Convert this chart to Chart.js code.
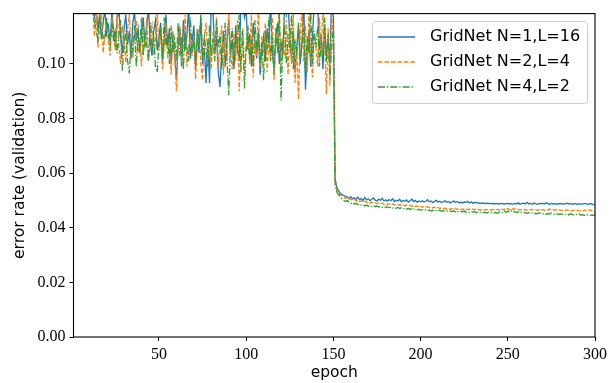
<!DOCTYPE html>
<html>
<head>
<meta charset="utf-8">
<script src="https://cdn.jsdelivr.net/npm/chart.js@4"></script>
<style>
  body { margin: 0; background: #fff; }
  canvas { display: block; }
</style>
</head>
<body>
<canvas id="chart" width="611" height="383"></canvas>
<script>
// ticks shown on the axes
var xTicks = [50, 100, 150, 200, 250, 300];
var yTicks = [0, 0.02, 0.04, 0.06, 0.08, 0.10];

var seriesNames = ["GridNet N=1,L=16", "GridNet N=2,L=4", "GridNet N=4,L=2"];

// validation error per epoch (1..300)
var errN1L16 = [
  0.31, 0.24, 0.2, 0.17, 0.155, 0.145, 0.138, 0.133, 0.129, 0.126, 0.124, 0.122,
  0.117, 0.121, 0.112, 0.118, 0.109, 0.115, 0.120, 0.111,
  0.114, 0.108, 0.119, 0.112, 0.106, 0.116, 0.121, 0.110, 0.104, 0.113,
  0.118, 0.107, 0.112, 0.102, 0.115, 0.119, 0.109, 0.113, 0.104, 0.111,
  0.117, 0.106, 0.114, 0.120, 0.108, 0.103, 0.112, 0.116, 0.105, 0.110,
  0.115, 0.101, 0.109, 0.118, 0.106, 0.113, 0.100, 0.111, 0.103, 0.094,
  0.107, 0.113, 0.099, 0.116, 0.105, 0.110, 0.121, 0.102, 0.108, 0.114,
  0.098, 0.111, 0.104, 0.117, 0.100, 0.106, 0.093, 0.109, 0.093, 0.123,
  0.119, 0.104, 0.110, 0.097, 0.0915, 0.105, 0.112, 0.099, 0.108, 0.116,
  0.103, 0.109, 0.098, 0.114, 0.106, 0.101, 0.122, 0.124, 0.117, 0.120,
  0.105, 0.111, 0.099, 0.115, 0.108, 0.102, 0.112, 0.096, 0.106, 0.110,
  0.101, 0.113, 0.107, 0.122, 0.104, 0.098, 0.110, 0.115, 0.100, 0.108,
  0.103, 0.121, 0.118, 0.123, 0.109, 0.102, 0.112, 0.097, 0.106, 0.114,
  0.100, 0.108, 0.124, 0.0905, 0.104, 0.112, 0.099, 0.110, 0.122, 0.120,
  0.121, 0.105, 0.111, 0.098, 0.113, 0.103, 0.109, 0.100, 0.125, 0.117,
  0.058, 0.0548, 0.0535, 0.0525, 0.0521, 0.0518, 0.0515, 0.0512, 0.0508, 0.0514,
  0.0506, 0.0510, 0.0504, 0.0512, 0.0503, 0.0507, 0.0500, 0.0511, 0.0502, 0.0506,
  0.0499, 0.0504, 0.0509, 0.0501, 0.0497, 0.0505, 0.0500, 0.0508, 0.0498, 0.0502,
  0.0497, 0.0503, 0.0499, 0.0506, 0.0496, 0.0501, 0.0498, 0.0504, 0.0495, 0.0500,
  0.0497, 0.0502, 0.0494, 0.0499, 0.0505, 0.0496, 0.0500, 0.0493, 0.0498, 0.0495,
  0.0499, 0.0494, 0.0497, 0.0503, 0.0495, 0.0498, 0.0492, 0.0496, 0.0500, 0.0494,
  0.0497, 0.0492, 0.0495, 0.0499, 0.0493, 0.0496, 0.0491, 0.0495, 0.0498, 0.0493,
  0.0496, 0.0491, 0.0494, 0.0490, 0.0495, 0.0492, 0.0497, 0.0491, 0.0494, 0.0490,
  0.0493, 0.0490, 0.0492, 0.0489, 0.0491, 0.0490, 0.0488, 0.0490, 0.0489, 0.0488,
  0.0489, 0.0487, 0.0489, 0.0488, 0.0487, 0.0489, 0.0488, 0.0487, 0.0488, 0.0489,
  0.0487, 0.0488, 0.0486, 0.0489, 0.0487, 0.0491, 0.0486, 0.0488, 0.0490, 0.0487,
  0.0493, 0.0487, 0.0489, 0.0486, 0.0491, 0.0488, 0.0486, 0.0489, 0.0487, 0.0490,
  0.0487, 0.0492, 0.0488, 0.0486, 0.0489, 0.0487, 0.0488, 0.0486, 0.0488, 0.0487,
  0.0489, 0.0486, 0.0488, 0.0490, 0.0487, 0.0489, 0.0486, 0.0488, 0.0487, 0.0486,
  0.0488, 0.0486, 0.0487, 0.0489, 0.0487, 0.0486, 0.0488, 0.0487, 0.0485, 0.0484
];

var errN2L4 = [
  0.29, 0.22, 0.19, 0.165, 0.15, 0.14, 0.134, 0.130, 0.127, 0.125, 0.123, 0.121,
  0.110, 0.119, 0.106, 0.113, 0.120, 0.104, 0.111, 0.116,
  0.108, 0.103, 0.117, 0.110, 0.105, 0.119, 0.107, 0.100, 0.114, 0.109,
  0.1005, 0.113, 0.118, 0.106, 0.102, 0.111, 0.116, 0.104, 0.109, 0.099,
  0.112, 0.107, 0.117, 0.101, 0.110, 0.114, 0.103, 0.108, 0.119, 0.105,
  0.111, 0.098, 0.106, 0.115, 0.102, 0.109, 0.096, 0.112, 0.104, 0.090,
  0.108, 0.114, 0.101, 0.107, 0.118, 0.099, 0.105, 0.112, 0.103, 0.110,
  0.0945, 0.106, 0.113, 0.100, 0.094, 0.109, 0.115, 0.102, 0.108, 0.098,
  0.112, 0.104, 0.117, 0.099, 0.107, 0.114, 0.096, 0.110, 0.103, 0.119,
  0.105, 0.098, 0.111, 0.101, 0.116, 0.090, 0.108, 0.113, 0.097, 0.106,
  0.112, 0.100, 0.118, 0.095, 0.107, 0.103, 0.121, 0.099, 0.110, 0.104,
  0.115, 0.097, 0.108, 0.102, 0.117, 0.094, 0.111, 0.105, 0.120, 0.098,
  0.109, 0.103, 0.116, 0.096, 0.112, 0.100, 0.119, 0.093, 0.106, 0.087,
  0.110, 0.122, 0.101, 0.114, 0.097, 0.120, 0.104, 0.095, 0.111, 0.106,
  0.099, 0.117, 0.103, 0.121, 0.108, 0.089, 0.113, 0.092, 0.118, 0.110,
  0.057, 0.0535, 0.0526, 0.0520, 0.0516, 0.0512, 0.0507, 0.0510, 0.0503, 0.0506,
  0.0500, 0.0504, 0.0498, 0.0502, 0.0495, 0.0499, 0.0493, 0.0497, 0.0492, 0.0495,
  0.0490, 0.0494, 0.0489, 0.0492, 0.0488, 0.0491, 0.0487, 0.0490, 0.0486, 0.0489,
  0.0485, 0.0488, 0.0484, 0.0487, 0.0483, 0.0486, 0.0482, 0.0485, 0.0481, 0.0484,
  0.0480, 0.0483, 0.0479, 0.0482, 0.0478, 0.0481, 0.0477, 0.0480, 0.0476, 0.0479,
  0.0475, 0.0478, 0.0474, 0.0477, 0.0473, 0.0476, 0.0472, 0.0475, 0.0471, 0.0474,
  0.0470, 0.0473, 0.0469, 0.0472, 0.0468, 0.0471, 0.0467, 0.0470, 0.0468, 0.0471,
  0.0467, 0.0470, 0.0466, 0.0469, 0.0467, 0.0470, 0.0466, 0.0468, 0.0465, 0.0469,
  0.0466, 0.0468, 0.0465, 0.0467, 0.0464, 0.0468, 0.0465, 0.0467, 0.0464, 0.0466,
  0.0465, 0.0467, 0.0464, 0.0468, 0.0465, 0.0471, 0.0466, 0.0469, 0.0465, 0.0470,
  0.0466, 0.0472, 0.0467, 0.0470, 0.0466, 0.0468, 0.0465, 0.0469, 0.0466, 0.0467,
  0.0464, 0.0468, 0.0465, 0.0467, 0.0464, 0.0466, 0.0463, 0.0467, 0.0464, 0.0466,
  0.0463, 0.0466, 0.0464, 0.0469, 0.0465, 0.0467, 0.0464, 0.0466, 0.0463, 0.0465,
  0.0462, 0.0465, 0.0463, 0.0466, 0.0462, 0.0464, 0.0461, 0.0465, 0.0462, 0.0464,
  0.0461, 0.0463, 0.0460, 0.0464, 0.0461, 0.0463, 0.0466, 0.0462, 0.0460, 0.0458
];

var errN4L2 = [
  0.30, 0.23, 0.195, 0.17, 0.152, 0.14, 0.135, 0.131, 0.128, 0.125, 0.123, 0.121,
  0.116, 0.112, 0.109, 0.118, 0.113, 0.110, 0.1085, 0.117,
  0.111, 0.106, 0.115, 0.108, 0.113, 0.104, 0.110, 0.116, 0.0975, 0.107,
  0.112, 0.101, 0.0965, 0.109, 0.104, 0.114, 0.099, 0.110, 0.106, 0.117,
  0.103, 0.111, 0.107, 0.101, 0.115, 0.105, 0.110, 0.099, 0.097, 0.108,
  0.113, 0.102, 0.117, 0.106, 0.111, 0.100, 0.114, 0.104, 0.109, 0.101,
  0.115, 0.103, 0.110, 0.098, 0.112, 0.106, 0.101, 0.117, 0.104, 0.109,
  0.100, 0.113, 0.107, 0.118, 0.102, 0.110, 0.105, 0.099, 0.114, 0.103,
  0.109, 0.101, 0.116, 0.106, 0.111, 0.098, 0.108, 0.115, 0.102, 0.0885,
  0.107, 0.113, 0.100, 0.110, 0.104, 0.118, 0.097, 0.112, 0.091, 0.106,
  0.114, 0.102, 0.109, 0.099, 0.116, 0.105, 0.111, 0.100, 0.108, 0.094,
  0.112, 0.105, 0.117, 0.101, 0.110, 0.096, 0.113, 0.104, 0.119, 0.0866,
  0.108, 0.114, 0.100, 0.111, 0.105, 0.118, 0.098, 0.109, 0.103, 0.115,
  0.101, 0.107, 0.113, 0.096, 0.110, 0.104, 0.119, 0.100, 0.112, 0.106,
  0.114, 0.099, 0.108, 0.103, 0.117, 0.101, 0.111, 0.095, 0.106, 0.113,
  0.056, 0.0530, 0.0520, 0.0512, 0.0505, 0.0500, 0.0496, 0.0500, 0.0492, 0.0489,
  0.0493, 0.0486, 0.0490, 0.0484, 0.0487, 0.0482, 0.0485, 0.0480, 0.0483, 0.0479,
  0.0482, 0.0478, 0.0481, 0.0477, 0.0480, 0.0476, 0.0479, 0.0475, 0.0478, 0.0474,
  0.0477, 0.0473, 0.0476, 0.0472, 0.0475, 0.0471, 0.0474, 0.0470, 0.0473, 0.0469,
  0.0472, 0.0468, 0.0471, 0.0467, 0.0470, 0.0466, 0.0469, 0.0465, 0.0468, 0.0464,
  0.0467, 0.0463, 0.0466, 0.0462, 0.0465, 0.0461, 0.0464, 0.0460, 0.0463, 0.0461,
  0.0464, 0.0460, 0.0463, 0.0459, 0.0462, 0.0458, 0.0461, 0.0459, 0.0462, 0.0458,
  0.0461, 0.0457, 0.0460, 0.0458, 0.0461, 0.0457, 0.0459, 0.0456, 0.0460, 0.0457,
  0.0459, 0.0455, 0.0458, 0.0456, 0.0459, 0.0455, 0.0457, 0.0454, 0.0458, 0.0455,
  0.0457, 0.0454, 0.0456, 0.0453, 0.0457, 0.0460, 0.0455, 0.0462, 0.0456, 0.0461,
  0.0457, 0.0463, 0.0456, 0.0460, 0.0455, 0.0459, 0.0454, 0.0457, 0.0453, 0.0456,
  0.0452, 0.0455, 0.0451, 0.0454, 0.0450, 0.0453, 0.0451, 0.0455, 0.0452, 0.0450,
  0.0453, 0.0449, 0.0452, 0.0450, 0.0454, 0.0451, 0.0449, 0.0452, 0.0448, 0.0451,
  0.0449, 0.0452, 0.0448, 0.0450, 0.0447, 0.0451, 0.0448, 0.0446, 0.0449, 0.0447,
  0.0450, 0.0446, 0.0448, 0.0445, 0.0449, 0.0446, 0.0444, 0.0447, 0.0445, 0.0448
];

var epochs = errN1L16.map(function (v, i) { return i + 1; });

var colors = ["#1f77b4", "#ff7f0e", "#2ca02c"];
var dashes = [[], [4.5, 2], [7, 2, 1.3, 2]];
var allSeries = [errN1L16, errN2L4, errN4L2];

var tickFont = { family: "'Liberation Serif', serif", size: 16 };
var textFont = "'DejaVu Sans', sans-serif";

// spines all round, like matplotlib
var framePlugin = {
    id: 'frame',
    afterDatasetsDraw: function (chart) {
        var a = chart.chartArea;
        var ctx = chart.ctx;
        ctx.save();
        ctx.strokeStyle = '#000';
        ctx.lineWidth = 1.1;
        ctx.strokeRect(a.left, a.top, a.right - a.left, a.bottom - a.top);
        ctx.restore();
    }
};

// legend box in the upper right corner
var legendPlugin = {
    id: 'boxLegend',
    afterDraw: function (chart) {
        var ctx = chart.ctx;
        var bx = 372, by = 21, bw = 215, bh = 82;
        ctx.save();
        ctx.fillStyle = 'rgba(255,255,255,0.85)';
        ctx.strokeStyle = '#cccccc';
        ctx.lineWidth = 1;
        ctx.beginPath();
        ctx.roundRect(bx + 0.5, by + 0.5, bw, bh, 3);
        ctx.fill();
        ctx.stroke();
        ctx.font = '16px ' + textFont;
        ctx.textBaseline = 'middle';
        for (var i = 0; i < seriesNames.length; i++) {
            var y = 37 + i * 25;
            ctx.strokeStyle = colors[i];
            ctx.lineWidth = 1.3;
            ctx.setLineDash(dashes[i]);
            ctx.beginPath();
            ctx.moveTo(378, y);
            ctx.lineTo(415, y);
            ctx.stroke();
            ctx.setLineDash([]);
            ctx.fillStyle = '#000';
            ctx.fillText(seriesNames[i], 430, y);
        }
        ctx.restore();
    }
};

var datasets = allSeries.map(function (s, i) {
    return {
        label: seriesNames[i],
        data: s,
        borderColor: colors[i],
        borderWidth: 1.3,
        borderDash: dashes[i],
        pointRadius: 0,
        tension: 0,
        fill: false,
        order: 3 - i
    };
});

new Chart(document.getElementById('chart'), {
    type: 'line',
    data: { labels: epochs, datasets: datasets },
    options: {
        responsive: false,
        animation: false,
        devicePixelRatio: 1,
        layout: { padding: { top: 13, right: 15, bottom: 0, left: 0 } },
        plugins: {
            legend: { display: false },
            tooltip: { enabled: false }
        },
        scales: {
            x: {
                type: 'linear',
                min: 1,
                max: 300,
                afterBuildTicks: function (axis) {
                    axis.ticks = xTicks.map(function (v) { return { value: v }; });
                },
                afterFit: function (axis) { axis.height = 46; },
                grid: { display: true, drawOnChartArea: false, drawTicks: true, tickLength: 4, color: '#000' },
                border: { display: false },
                ticks: { font: tickFont, color: '#000', padding: 4, maxRotation: 0 },
                title: { display: true, text: 'epoch', font: { family: textFont, size: 15.5 }, color: '#000', padding: { top: 0, bottom: 1 } }
            },
            y: {
                min: 0,
                max: 0.1184,
                afterBuildTicks: function (axis) {
                    axis.ticks = yTicks.map(function (v) { return { value: v }; });
                },
                afterFit: function (axis) { axis.width = 73.5; },
                grid: { display: true, drawOnChartArea: false, drawTicks: true, tickLength: 4, color: '#000' },
                border: { display: false },
                ticks: {
                    font: tickFont, color: '#000', padding: 4,
                    callback: function (v) { return v.toFixed(2); }
                },
                title: { display: true, text: 'error rate (validation)', font: { family: textFont, size: 15.5 }, color: '#000', padding: { top: 11, bottom: 0 } }
            }
        }
    },
    plugins: [framePlugin, legendPlugin]
});
</script>
</body>
</html>
